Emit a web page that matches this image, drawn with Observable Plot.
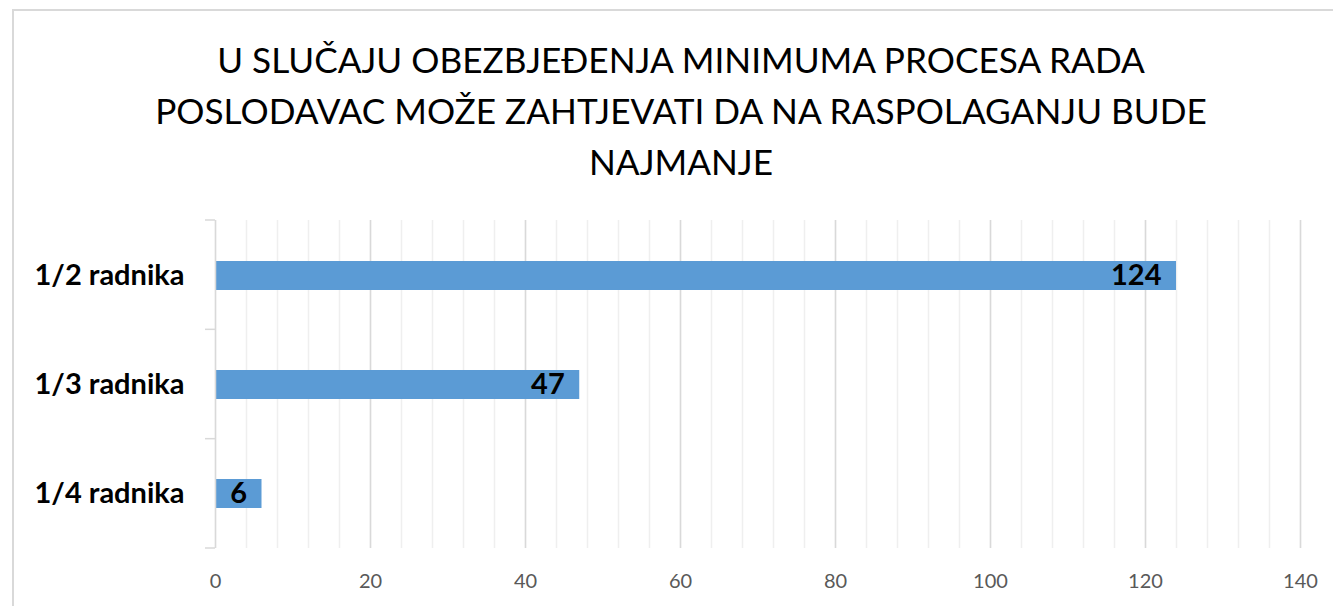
<!DOCTYPE html>
<html>
<head>
<meta charset="utf-8">
<script src="https://cdn.jsdelivr.net/npm/d3@7"></script>
<script src="https://cdn.jsdelivr.net/npm/@observablehq/plot@0.6"></script>
<style>
  html, body { margin: 0; padding: 0; background: white; overflow: hidden; }
  #page { position: relative; width: 1333px; height: 606px; overflow: hidden; }
  #frameTop { position: absolute; left: 12px; top: 9px; width: 1321px; height: 2px; background: #d9d9d9; }
  #frameLeft { position: absolute; left: 12px; top: 9px; width: 2px; height: 597px; background: #d9d9d9; }
  #title { position: absolute; left: 131px; width: 1100px; top: 34px; text-align: center; font-family: Lato, "Open Sans", sans-serif; font-size: 35.2px; line-height: 51px; color: #000; }
  #chart { position: absolute; left: 0; top: 200px; }
</style>
</head>
<body>
<div id="page">
<div id="frameTop"></div>
<div id="frameLeft"></div>
<div id="title">U SLUČAJU OBEZBJEĐENJA MINIMUMA PROCESA RADA<br>POSLODAVAC MOŽE ZAHTJEVATI DA NA RASPOLAGANJU BUDE<br>NAJMANJE</div>
<div id="chart"></div>
</div>
<script>
const categories = ["1/2 radnika", "1/3 radnika", "1/4 radnika"];
const values = [124, 47, 6];
const xTicks = [0, 20, 40, 60, 80, 100, 120, 140];
const minorTicks = d3.range(0, 141, 4);

const data = categories.map((c, i) => ({label: c, value: values[i]}));

function boundaryTicks(index, scales, vals, dims) {
  const {marginTop, marginBottom, height, marginLeft} = dims;
  const n = categories.length;
  const y0 = marginTop, y1 = height - marginBottom;
  const g = d3.create("svg:g").attr("stroke", "#d9d9d9").attr("stroke-width", 1.5);
  for (let i = 0; i <= n; i++) {
    const yy = y0 + i * (y1 - y0) / n;
    g.append("line").attr("x1", marginLeft - 10).attr("x2", marginLeft).attr("y1", yy).attr("y2", yy);
  }
  return g.node();
}

const chart = Plot.plot({
  width: 1333,
  height: 406,
  marginLeft: 215,
  marginRight: 33,
  marginTop: 20,
  marginBottom: 58,
  style: {fontFamily: "Lato, 'Open Sans', sans-serif", background: "transparent"},
  x: {domain: [0, 140], label: null},
  y: {domain: categories, paddingInner: 0.735, paddingOuter: 0.3675, label: null},
  marks: [
    Plot.ruleX(minorTicks, {stroke: "#efefef", strokeWidth: 1.5}),
    Plot.ruleX(xTicks.filter(d => d > 0), {stroke: "#d9d9d9", strokeWidth: 1.5}),
    Plot.barX(data, {x: "value", y: "label", fill: "#5B9BD5"}),
    Plot.text(data, {x: "value", y: "label", text: d => String(d.value), textAnchor: "end", dx: -15, fontWeight: "bold", fontSize: 29, fill: "black"}),
    Plot.ruleX([0], {stroke: "#d9d9d9", strokeWidth: 1.5}),
    boundaryTicks,
    Plot.axisX({ticks: xTicks, tickSize: 0, tickPadding: 25, fontSize: 20, color: "#595959", label: null}),
    Plot.axisY({tickSize: 0, tickPadding: 31, fontSize: 29, fontWeight: "bold", color: "#000", label: null})
  ]
});
document.getElementById("chart").appendChild(chart);
</script>
</body>
</html>
